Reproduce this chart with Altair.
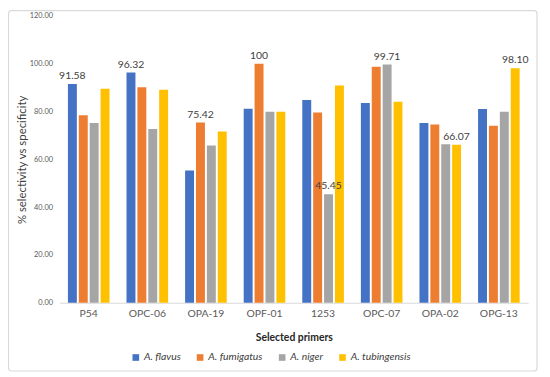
import altair as alt
import pandas as pd

primers = ["P54", "OPC-06", "OPA-19", "OPF-01", "1253", "OPC-07", "OPA-02", "OPG-13"]
species = ["A. flavus", "A. fumigatus", "A. niger", "A. tubingensis"]
colors = ["#4472C4", "#ED7D31", "#A5A5A5", "#FFC000"]

flavus = [91.58, 96.32, 55.3, 81.2, 84.8, 83.6, 75.2, 81.1]
fumigatus = [78.5, 90.2, 75.42, 100.0, 79.6, 98.8, 74.6, 74.1]
niger = [75.2, 72.7, 65.8, 79.9, 45.45, 99.71, 66.3, 79.9]
tubingensis = [89.5, 89.1, 71.7, 79.9, 90.9, 84.1, 66.07, 98.10]

# annotated value per primer and the species it sits on
label_text = ["91.58", "96.32", "75.42", "100", "45.45", "99.71", "66.07", "98.10"]
label_species = ["A. flavus", "A. flavus", "A. fumigatus", "A. fumigatus",
                 "A. niger", "A. niger", "A. tubingensis", "A. tubingensis"]

series = [flavus, fumigatus, niger, tubingensis]
rows = []
for sp, vals in zip(species, series):
    for p, v in zip(primers, vals):
        rows.append({"primer": p, "species": sp, "value": v})
df = pd.DataFrame(rows)

lab_rows = []
for p, t, sp in zip(primers, label_text, label_species):
    v = series[species.index(sp)][primers.index(p)]
    lab_rows.append({"primer": p, "species": sp, "value": v, "text": t})
ldf = pd.DataFrame(lab_rows)

FONT = "Lato"

x_enc = alt.X("primer:N", sort=primers,
              scale=alt.Scale(paddingInner=0.29, paddingOuter=0.145),
              axis=alt.Axis(title="Selected primers", labelAngle=0, ticks=False,
                            domainColor="#d9d9d9", labelFontSize=10.5, labelColor="#595959",
                            labelPadding=6, titleFontSize=10.5, titleFontWeight="bold",
                            titleColor="#262626", titlePadding=14, labelFont=FONT, titleFont=FONT))
xo_enc = alt.XOffset("species:N", sort=species, scale=alt.Scale(paddingInner=0.18))
y_enc = alt.Y("value:Q", scale=alt.Scale(domain=[0, 120], nice=False),
              axis=alt.Axis(title="% selectivity vs specificity", values=[0, 20, 40, 60, 80, 100, 120],
                            format=".2f", domain=False, ticks=False, grid=False,
                            labelFontSize=7.5, labelColor="#595959", labelPadding=7,
                            titleFontSize=11.5, titleFontWeight="normal", titleColor="#404040",
                            titlePadding=2, labelFont=FONT, titleFont=FONT))

bars = alt.Chart(df).mark_bar().encode(
    x=x_enc, xOffset=xo_enc, y=y_enc,
    color=alt.Color("species:N", sort=species,
                    scale=alt.Scale(domain=species, range=colors),
                    legend=alt.Legend(title=None, orient="none", direction="horizontal",
                                      legendX=72, legendY=340, symbolType="square",
                                      symbolSize=45, symbolStrokeWidth=0,
                                      labelFontStyle="italic", labelFontSize=10.5,
                                      labelFont=FONT, labelColor="#404040",
                                      labelOffset=3, columnPadding=14)),
)

texts = alt.Chart(ldf).mark_text(dy=-8, fontSize=10.5, color="#404040", font=FONT).encode(
    x=alt.X("primer:N", sort=primers), xOffset=alt.XOffset("species:N", sort=species),
    y="value:Q", text="text:N",
)

border = alt.Chart(pd.DataFrame({"a": [0]})).mark_rect(
    fill=None, stroke="#d9d9d9", strokeWidth=1.2, cornerRadius=3
).encode(x=alt.value(-51.5), x2=alt.value(483), y=alt.value(-5.5), y2=alt.value(359))

chart = alt.layer(border, bars, texts).properties(
    width=474, height=290,
    autosize=alt.AutoSizeParams(type="none"),
    padding={"left": 52, "top": 6, "right": 14, "bottom": 72},
    background="white",
).configure_view(stroke=None)

chart.save("out.html", embed_options={"renderer": "svg", "actions": False})
